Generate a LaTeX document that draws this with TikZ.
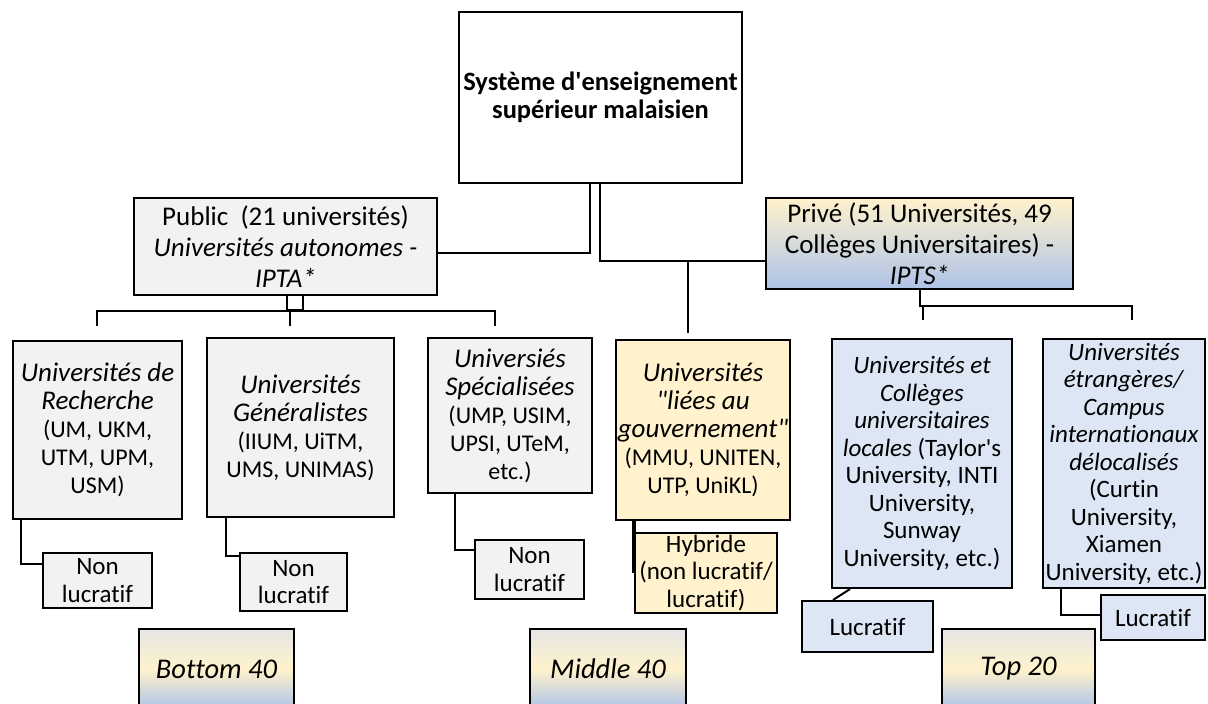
\documentclass[tikz,border=0pt]{standalone}
\usepackage{fontspec}
\setmainfont{Carlito}[Ligatures={TeXOff,NoCommon}]
\definecolor{grisclair}{HTML}{F2F2F2}
\definecolor{jaunepale}{HTML}{FFF2CC}
\definecolor{bleupale}{HTML}{DCE6F4}
\definecolor{bleudegrade}{HTML}{AEC3E8}
\definecolor{grisdegrade}{HTML}{E6E6E6}
\newcommand{\boxfont}{\fontsize{24}{28}\selectfont}
\newcommand{\headfont}{\fontsize{27}{31}\selectfont}
\newcommand{\sidefont}{\fontsize{25}{27.5}\selectfont}
\newcommand{\titlefont}{\fontsize{26.5}{28}\selectfont\bfseries}
\newcommand{\tierfont}{\fontsize{28.5}{30}\selectfont\itshape}
\newcommand{\emtxt}[1]{{\fontsize{27}{28}\selectfont\itshape #1}}

\begin{document}
\begin{tikzpicture}[
    x=1pt, y=-1pt,
    font=\boxfont,
    box/.style={draw, line width=2.2pt, inner sep=2pt, align=center},
    gbox/.style={box, fill=grisclair},
    ybox/.style={box, fill=jaunepale},
    bbox/.style={box, fill=bleupale},
    tier/.style={box, top color=grisdegrade, bottom color=bleudegrade,
                 middle color=jaunepale, font=\tierfont},
    sz/.style 2 args={minimum width=#1pt, minimum height=#2pt},
    wire/.style={line width=2pt},
  ]
  \useasboundingbox[fill=white] (0,0) rectangle (1208,704);

  %% ---- sommet, public, prive ----------------------------------------
  \node[box, sz={283}{171}, font=\titlefont] (sys) at (600.5,97.5)
    {Système d'enseignement\\ supérieur malaisien};
  \node[gbox, sz={303}{97}, font=\headfont] (pub) at (285.5,246.5)
    {Public~ (21 universités)\\ \textit{Universités autonomes -}\\ \textit{IPTA*}};
  \node[box, sz={307}{91}, font=\headfont, top color=jaunepale,
        bottom color=bleudegrade] (priv) at (919.5,243.5)
    {Privé (51 Universités, 49\\ Collèges Universitaires) -\\ \textit{IPTS*}};

  \coordinate (jpub)  at (590,253);
  \coordinate (jpriv) at (600,261);
  \coordinate (jgov)  at (688,333);
  \draw[wire] (sys.south -| jpub) |- (pub.east |- jpub);
  \draw[wire] (sys.south -| jpriv) |- (priv.west |- jpriv);
  \draw[wire] (jpriv -| jgov) -- (jgov);

  %% ---- rails sous public et prive -----------------------------------
  \coordinate (ppl)  at (287,310);
  \coordinate (ppr)  at (303,310);
  \coordinate (rail) at (0,311);
  \coordinate (r1)   at (97,326);
  \coordinate (r2)   at (290,326);
  \coordinate (r3)   at (495,326);
  \draw[wire] (pub.south -| ppl) -- (ppl) -- (ppr) -- (pub.south -| ppr);
  \draw[wire] (r1) |- (rail -| r3) -- (r3);
  \draw[wire] (rail -| r2) -- (r2);

  \coordinate (pdrop) at (920,306);
  \coordinate (q1)    at (923,320);
  \coordinate (q2)    at (1132,320);
  \draw[wire] (priv.south -| pdrop) -- (pdrop) -- (pdrop -| q2) -- (q2);
  \draw[wire] (pdrop -| q1) -- (q1);

  %% ---- types d'etablissements ---------------------------------------
  \node[gbox, sz={169}{178}] (rech) at (97.5,430)
    {\emtxt{Universités de}\\ \emtxt{Recherche}\\ (UM, UKM,\\ UTM, UPM,\\ USM)};
  \node[gbox, sz={187}{179}] (gen) at (300.5,427.5)
    {\emtxt{Universités}\\ \emtxt{Généralistes}\\ (IIUM, UiTM,\\ UMS, UNIMAS)};
  \node[gbox, sz={164}{155}] (spec) at (510,415.5)
    {\emtxt{Universiés}\\ \emtxt{Spécialisées}\\ (UMP, USIM,\\ UPSI, UTeM,\\ etc.)};
  \node[ybox, sz={174}{180}] (gouv) at (703,430)
    {\emtxt{Universités}\\ \emtxt{"liées au}\\ \emtxt{gouvernement"}\\ (MMU, UNITEN,\\ UTP, UniKL)};
  \node[bbox, sz={180}{249}, font=\sidefont] (loc) at (922,463.5)
    {\textit{Universités et}\\ \textit{Collèges}\\ \textit{universitaires}\\
     \textit{locales} (Taylor's\\ University, INTI\\ University,\\ Sunway\\
     University, etc.)};
  \node[bbox, sz={162}{249}, font=\sidefont] (etr) at (1124,463.5)
    {\textit{Universités}\\ \textit{étrangères/}\\ \textit{Campus}\\
     \makebox[150pt]{\textit{internationaux}}\\ \textit{délocalisés}\\ (Curtin\\
     University,\\ Xiamen\\ \makebox[150pt]{University, etc.)}};

  %% ---- statut ---------------------------------------------------------
  \node[gbox, sz={109}{55}, font=\sidefont]  (nl1)  at (97.5,580.5) {Non\\ lucratif};
  \node[gbox, sz={107}{58}, font=\sidefont]  (nl2)  at (293.5,582)  {Non\\ lucratif};
  \node[gbox, sz={109}{59}, font=\sidefont]  (nl3)  at (529.5,569.5) {Non\\ lucratif};
  \node[ybox, sz={142}{74}, font=\sidefont]  (hyb)  at (706,573)
    {Hybride\\ (non lucratif/\\ lucratif)};
  \node[bbox, sz={131}{51}, font=\sidefont]  (luc1) at (867.5,626.5) {Lucratif};
  \node[bbox, sz={104}{45}, font=\sidefont]  (luc2) at (1153,617.5) {Lucratif};

  \coordinate (k1) at (21,564);
  \coordinate (k2) at (226,556);
  \coordinate (k3) at (455,550);
  \coordinate (k4) at (634,573);
  \coordinate (k5) at (850,588);
  \coordinate (k5b) at (833,601);
  \coordinate (k6) at (1061,615);
  \draw[wire] (rech.south -| k1) |- (nl1.west |- k1);
  \draw[wire] (gen.south -| k2) |- (nl2.west |- k2);
  \draw[wire] (spec.south -| k3) |- (nl3.west |- k3);
  \draw[line width=3.5pt] (gouv.south -| k4) -- (k4);
  \draw[wire] (loc.south -| k5) -- (luc1.north -| k5b);
  \draw[wire] (etr.south -| k6) |- (luc2.west |- k6);

  %% ---- paliers de revenus -----------------------------------------------
  \node[tier, sz={155}{80}] (b40) at (216.5,669) {Bottom 40};
  \node[tier, sz={156}{80}] (m40) at (608,669)   {Middle 40};
  \node[tier, sz={153}{80}] (t20) at (1018.5,669) {Top 20};
\end{tikzpicture}
\end{document}
